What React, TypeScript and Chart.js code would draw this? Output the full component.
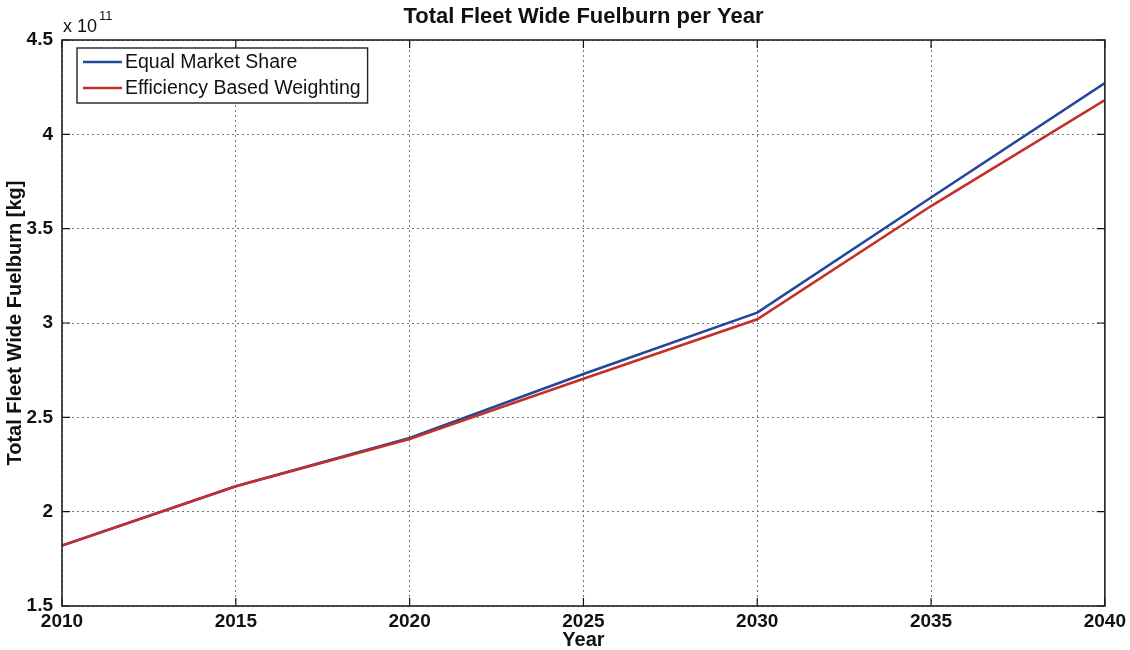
import React, { useEffect, useRef } from "react";
import { Chart, registerables } from "chart.js";

Chart.register(...registerables);

const years = [2010, 2015, 2020, 2025, 2030, 2035, 2040];
const equalMarketShare = [1.82e11, 2.135e11, 2.39e11, 2.73e11, 3.055e11, 3.665e11, 4.272e11];
const efficiencyBased = [1.82e11, 2.135e11, 2.385e11, 2.705e11, 3.02e11, 3.62e11, 4.182e11];
const seriesLabels = ["Equal Market Share", "Efficiency Based Weighting"];
const seriesColors = ["#23479a", "#c42f2a"];
const chartTitle = "Total Fleet Wide Fuelburn per Year";
const xTitle = "Year";
const yTitle = "Total Fleet Wide Fuelburn [kg]";
const exponentBase = "x 10";
const exponentPower = "11";

const FONT = "'Liberation Sans', Arial, Helvetica, sans-serif";

const decorPlugin = {
  id: "decor",
  afterDraw(chart: any) {
    const { ctx, chartArea, scales } = chart;
    const { left, right, top, bottom } = chartArea;
    ctx.save();
    // tick marks inward
    ctx.strokeStyle = "#111";
    ctx.lineWidth = 1.2;
    const tl = 8;
    scales.y.ticks.forEach((t: any) => {
      const y = scales.y.getPixelForValue(t.value);
      ctx.beginPath();
      ctx.moveTo(left, y);
      ctx.lineTo(left + tl, y);
      ctx.moveTo(right, y);
      ctx.lineTo(right - tl, y);
      ctx.stroke();
    });
    scales.x.ticks.forEach((t: any) => {
      const x = scales.x.getPixelForValue(t.value);
      ctx.beginPath();
      ctx.moveTo(x, bottom);
      ctx.lineTo(x, bottom - tl);
      ctx.moveTo(x, top);
      ctx.lineTo(x, top + tl);
      ctx.stroke();
    });
    // box
    ctx.lineWidth = 1.6;
    ctx.strokeStyle = "#222";
    ctx.strokeRect(left, top, right - left, bottom - top);

    // title
    ctx.fillStyle = "#111";
    ctx.font = `bold 22px ${FONT}`;
    ctx.textAlign = "center";
    ctx.textBaseline = "middle";
    ctx.fillText(chartTitle, (left + right) / 2, 17);

    // x title
    ctx.font = `bold 20px ${FONT}`;
    ctx.fillText(xTitle, (left + right) / 2, 640);

    // exponent
    ctx.textAlign = "left";
    ctx.textBaseline = "alphabetic";
    ctx.font = `18px ${FONT}`;
    ctx.fillText(exponentBase, left + 1, top - 8);
    const w = ctx.measureText(exponentBase).width;
    ctx.font = `13px ${FONT}`;
    ctx.fillText(exponentPower, left + 3 + w, top - 20);

    // legend
    const lx = left + 15;
    const ly = top + 8;
    ctx.font = `19.5px ${FONT}`;
    const tw = Math.max(...seriesLabels.map((s) => ctx.measureText(s).width));
    const lw = 6 + 39 + 3 + tw + 7;
    const lh = 55;
    ctx.fillStyle = "#fff";
    ctx.fillRect(lx, ly, lw, lh);
    ctx.strokeStyle = "#222";
    ctx.lineWidth = 1.4;
    ctx.strokeRect(lx, ly, lw, lh);
    seriesLabels.forEach((s, i) => {
      const cy = ly + 14 + i * 26;
      ctx.strokeStyle = seriesColors[i];
      ctx.lineWidth = 2.5;
      ctx.beginPath();
      ctx.moveTo(lx + 6, cy);
      ctx.lineTo(lx + 45, cy);
      ctx.stroke();
      ctx.fillStyle = "#111";
      ctx.textBaseline = "middle";
      ctx.fillText(s, lx + 48, cy + 1);
    });
    ctx.restore();
  },
};

export default function App() {
  const ref = useRef<HTMLCanvasElement | null>(null);
  useEffect(() => {
    if (!ref.current) return;
    const mk = (vals: number[]) => years.map((x, i) => ({ x, y: vals[i] }));
    const chart = new Chart(ref.current, {
      type: "line",
      data: {
        datasets: [
          {
            label: seriesLabels[0],
            data: mk(equalMarketShare),
            borderColor: seriesColors[0],
            borderWidth: 2.6,
            pointRadius: 0,
            tension: 0,
            order: 2,
          },
          {
            label: seriesLabels[1],
            data: mk(efficiencyBased),
            borderColor: seriesColors[1],
            borderWidth: 2.6,
            pointRadius: 0,
            tension: 0,
            order: 1,
          },
        ],
      },
      options: {
        animation: false,
        responsive: false,
        devicePixelRatio: 1,
        layout: { padding: { top: 40, right: 24, left: 0, bottom: 0 } },
        plugins: { legend: { display: false }, tooltip: { enabled: false }, title: { display: false } },
        scales: {
          x: {
            type: "linear",
            min: 2010,
            max: 2040,
            afterFit: (s: any) => {
              s.height = 44;
            },
            ticks: {
              stepSize: 5,
              padding: 4,
              color: "#111",
              font: { family: FONT, size: 19, weight: "bold" },
              callback: (v: any) => String(v),
              maxRotation: 0,
            },
            grid: { color: "#777", drawTicks: false, lineWidth: 1 },
            border: { display: false, dash: [2, 3] },
            title: { display: false },
          },
          y: {
            type: "linear",
            min: 1.5e11,
            max: 4.5e11,
            afterFit: (s: any) => {
              s.width = 62;
            },
            ticks: {
              stepSize: 0.5e11,
              padding: 9,
              color: "#111",
              font: { family: FONT, size: 19, weight: "bold" },
              callback: (v: any) => String(Math.round((v / 1e11) * 10) / 10),
            },
            grid: { color: "#777", drawTicks: false, lineWidth: 1 },
            border: { display: false, dash: [2, 3] },
            title: {
              display: true,
              text: yTitle,
              color: "#111",
              font: { family: FONT, size: 20, weight: "bold" },
              padding: { top: 3, bottom: 0 },
            },
          },
        },
      },
      plugins: [decorPlugin],
    });
    return () => chart.destroy();
  }, []);
  return (
    <div style={{ position: "fixed", left: 0, top: 0, width: 1130, height: 650, background: "#fff" }}>
      <canvas ref={ref} width={1130} height={650} />
    </div>
  );
}
